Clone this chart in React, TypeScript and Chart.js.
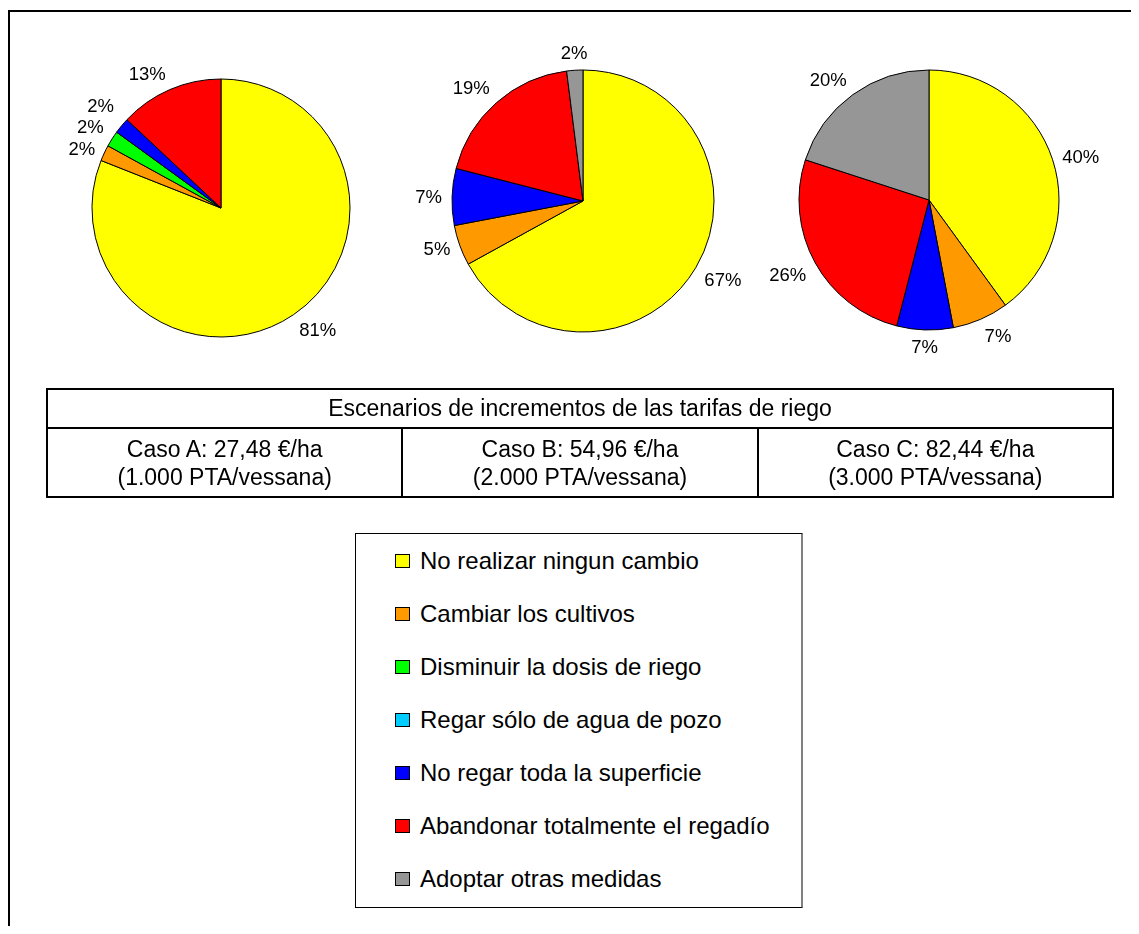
import React, { useEffect, useRef } from "react";
import { Chart, registerables } from "chart.js";

Chart.register(...registerables);

// ---- Data ----
const categories = [
  "No realizar ningun cambio",
  "Cambiar los cultivos",
  "Disminuir la dosis de riego",
  "Regar sólo de agua de pozo",
  "No regar toda la superficie",
  "Abandonar totalmente el regadío",
  "Adoptar otras medidas",
];
const sliceColors = ["#FFFF00", "#FF9900", "#00FF00", "#00CCFF", "#0000FF", "#FF0000", "#969696"];
const casoA = [81, 2, 2, 0, 2, 13, 0];
const casoB = [67, 5, 0, 0, 7, 19, 2];
const casoC = [40, 7, 0, 0, 7, 26, 20];
const tableTitle = "Escenarios de incrementos de las tarifas de riego";
const caseTitles = ["Caso A: 27,48 €/ha", "Caso B: 54,96 €/ha", "Caso C: 82,44 €/ha"];
const caseSubtitles = ["(1.000 PTA/vessana)", "(2.000 PTA/vessana)", "(3.000 PTA/vessana)"];

const FONT = '"Liberation Sans", Arial, sans-serif';

const outsideLabels = {
  id: "outsideLabels",
  afterDatasetsDraw(chart: any) {
    const ctx = chart.ctx;
    const meta = chart.getDatasetMeta(0);
    const data: number[] = chart.data.datasets[0].data;
    const total = data.reduce((a, b) => a + b, 0);
    ctx.save();
    ctx.font = `18.5px ${FONT}`;
    ctx.fillStyle = "#000";
    ctx.textAlign = "center";
    ctx.textBaseline = "middle";
    const GAP = 10;
    const h = 14;
    const labels: { text: string; cx: number; cy: number; w: number }[] = [];
    meta.data.forEach((arc: any, i: number) => {
      const v = data[i];
      if (!v) return;
      const { x, y, startAngle, endAngle, outerRadius } = arc.getProps(
        ["x", "y", "startAngle", "endAngle", "outerRadius"],
        true
      );
      const mid = (startAngle + endAngle) / 2;
      const dx = Math.cos(mid);
      const dy = Math.sin(mid);
      const px = x + (outerRadius + GAP) * dx;
      const py = y + (outerRadius + GAP) * dy;
      const text = Math.round((v / total) * 100) + "%";
      const w = ctx.measureText(text).width;
      let deg = ((mid * 180) / Math.PI + 90) % 360;
      if (deg < 0) deg += 360;
      const sector = Math.round(deg / 45) % 8;
      const ax = [0, 1, 1, 1, 0, -1, -1, -1][sector];
      const ay = [-1, -1, 0, 1, 1, 1, 0, -1][sector];
      labels.push({ text, cx: px + (ax * w) / 2, cy: py + (ay * h) / 2, w });
    });
    // simple vertical de-overlap: spread clusters of colliding labels
    const spacing = h + 7.5;
    for (let iter = 0; iter < 10; iter++) {
      const sorted = [...labels].sort((a, b) => a.cy - b.cy);
      let changed = false;
      let cluster: typeof labels = [sorted[0]];
      const clusters: (typeof labels)[] = [];
      for (let k = 1; k < sorted.length; k++) {
        const a = cluster[cluster.length - 1];
        const b = sorted[k];
        const xOverlap = Math.abs(a.cx - b.cx) < (a.w + b.w) / 2;
        if (xOverlap && b.cy - a.cy < spacing - 0.5) cluster.push(b);
        else {
          clusters.push(cluster);
          cluster = [b];
        }
      }
      clusters.push(cluster);
      clusters.forEach((cl) => {
        if (cl.length < 2) return;
        const mean = cl.reduce((s, l) => s + l.cy, 0) / cl.length;
        cl.forEach((l, k) => {
          l.cy = mean + (k - (cl.length - 1) / 2) * spacing;
        });
        changed = true;
      });
      if (!changed) break;
    }
    labels.forEach((l) => ctx.fillText(l.text, l.cx, l.cy + 1));
    ctx.restore();
  },
};

function Pie({ values, radius, left, top }: { values: number[]; radius: number; left: number; top: number }) {
  const ref = useRef<HTMLCanvasElement>(null);
  useEffect(() => {
    if (!ref.current) return;
    const chart = new Chart(ref.current, {
      type: "pie",
      data: {
        labels: categories,
        datasets: [
          {
            data: values,
            backgroundColor: sliceColors,
            borderColor: "#000",
            borderWidth: 1,
          },
        ],
      },
      options: {
        responsive: false,
        animation: false,
        radius: radius,
        layout: { padding: 0 },
        plugins: { legend: { display: false }, tooltip: { enabled: false } },
        events: [],
      } as any,
      plugins: [outsideLabels],
    });
    return () => chart.destroy();
  }, []);
  return (
    <canvas
      ref={ref}
      width={380}
      height={380}
      style={{ position: "absolute", left, top, width: 380, height: 380 }}
    />
  );
}

export default function App() {
  const cellStyle: React.CSSProperties = {
    border: "2px solid #000",
    textAlign: "center",
    padding: 0,
    fontFamily: FONT,
    fontSize: 23,
    color: "#000",
  };
  return (
    <div style={{ position: "relative", width: 1123, height: 918, fontFamily: FONT }}>
      <style>{`body{overflow:hidden}`}</style>
      <div
        style={{
          position: "absolute",
          left: 0,
          top: 2,
          width: 1131,
          height: 922,
          borderLeft: "2px solid #000",
          borderTop: "2px solid #000",
          boxSizing: "border-box",
        }}
      />
      <Pie values={casoA} radius={129} left={23} top={10} />
      <Pie values={casoB} radius={131} left={385} top={3} />
      <Pie values={casoC} radius={130} left={731} top={2} />
      <table
        style={{
          position: "absolute",
          left: 38,
          top: 380,
          width: 1068,
          height: 110,
          borderCollapse: "collapse",
          tableLayout: "fixed",
        }}
      >
        <tbody>
          <tr style={{ height: 39 }}>
            <td colSpan={3} style={cellStyle}>
              {tableTitle}
            </td>
          </tr>
          <tr style={{ height: 69 }}>
            {caseTitles.map((t, i) => (
              <td key={i} style={{ ...cellStyle, lineHeight: "28px" }}>
                {t}
                <br />
                {caseSubtitles[i]}
              </td>
            ))}
          </tr>
        </tbody>
      </table>
      <div
        style={{
          position: "absolute",
          left: 347,
          top: 525,
          width: 448,
          height: 375,
          borderTop: "1px solid #000",
          borderLeft: "1px solid #000",
          borderBottom: "1px solid #000",
          borderRight: "2px solid #808080",
          boxSizing: "border-box",
          background: "#fff",
        }}
      >
        {categories.map((c, i) => (
          <div
            key={i}
            style={{
              position: "absolute",
              left: 39,
              top: i * 53,
              height: 53,
              display: "flex",
              alignItems: "center",
              whiteSpace: "nowrap",
            }}
          >
            <div
              style={{
                width: 15,
                height: 14,
                boxSizing: "border-box",
                border: "1px solid #000",
                background: sliceColors[i],
                marginRight: 10,
              }}
            />
            <span style={{ fontSize: 24, color: "#000", lineHeight: "53px" }}>{c}</span>
          </div>
        ))}
      </div>
    </div>
  );
}
